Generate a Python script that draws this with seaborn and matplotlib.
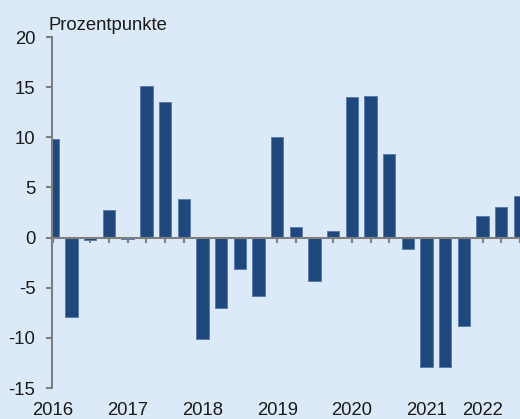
import matplotlib
matplotlib.use("Agg")
import matplotlib.pyplot as plt
import matplotlib.transforms as mtransforms
import pandas as pd
import seaborn as sns

# quarterly changes, 2016 Q1 - 2022 Q2
quarters = [f"{y}Q{q}" for y in range(2016, 2023) for q in range(1, 5)][:26]
values = [9.8, -7.9, -0.2, 2.7, -0.1, 15.1, 13.5, 3.8,
          -10.1, -7.0, -3.1, -5.8, 10.0, 1.1, -4.3, 0.7,
          14.0, 14.1, 8.3, -1.1, -12.9, -12.9, -8.8, 2.2,
          3.0, 4.1]
year_labels = ["2016", "2017", "2018", "2019", "2020", "2021", "2022"]
year_label_pos = [0, 4, 8, 12, 16, 20, 23]
y_ticks = [-15, -10, -5, 0, 5, 10, 15, 20]

bg = "#DCE9F8"
bar_color = "#1F497D"
axis_grey = "#7F7F7F"
fs = 13.3

sns.set_style("ticks")
plt.rcParams["font.family"] = ["Liberation Sans", "DejaVu Sans"]

df = pd.DataFrame({"quarter": quarters, "value": values})

fig = plt.figure(figsize=(5.2, 4.19), dpi=100, facecolor=bg)
ax = fig.add_axes([52 / 520, 1 - 388 / 419, 1 - 52 / 520, 351 / 419])
ax.set_facecolor(bg)

sns.barplot(data=df, x="quarter", y="value", color=bar_color, saturation=1,
            width=0.66, edgecolor="#5B7DAD", linewidth=0.7, ax=ax, zorder=2)

ax.set_xlim(-0.05, 25.0)
ax.set_ylim(-15, 20)
ax.set_yticks(y_ticks)
ax.set_yticklabels([str(t) for t in y_ticks], fontsize=fs, color="#1a1a1a")
ax.set_xticks(range(len(quarters)))
ax.set_xticklabels([])
ax.set_xlabel("")
ax.set_ylabel("")
ax.tick_params(axis="y", left=True, direction="out", length=4, width=1.5,
               color=axis_grey, pad=8)
ax.tick_params(axis="x", bottom=True, direction="out", length=3.5, width=1.5,
               color=axis_grey)

for s in ["top", "right"]:
    ax.spines[s].set_visible(False)
ax.spines["left"].set_color(axis_grey)
ax.spines["left"].set_linewidth(1.5)
ax.spines["bottom"].set_position(("data", 0))
ax.spines["bottom"].set_color(axis_grey)
ax.spines["bottom"].set_linewidth(1.5)
ax.spines["bottom"].set_zorder(3)

trans = mtransforms.blended_transform_factory(ax.transData, ax.transAxes)
for lab, pos in zip(year_labels, year_label_pos):
    ax.text(pos, -0.063, lab, transform=trans, ha="center", va="center",
            fontsize=fs, color="#1a1a1a", clip_on=False)

fig.text(49 / 520, 1 - 30 / 419, "Prozentpunkte", ha="left", va="baseline",
         fontsize=fs, color="#1a1a1a")

fig.savefig("out.png", dpi=100, facecolor=bg)
